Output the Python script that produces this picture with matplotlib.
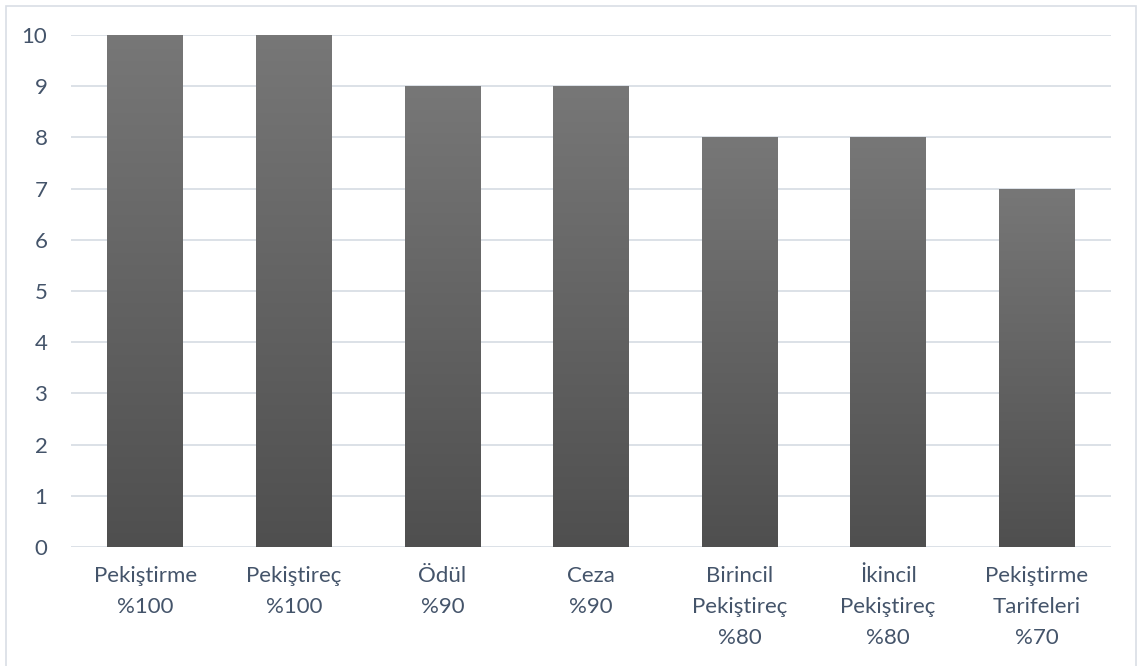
import numpy as np
import matplotlib.pyplot as plt
from matplotlib.patches import Rectangle

categories = ["Pekiştirme\n%100", "Pekiştireç\n%100", "Ödül\n%90", "Ceza\n%90",
              "Birincil\nPekiştireç\n%80", "İkincil\nPekiştireç\n%80",
              "Pekiştirme\nTarifeleri\n%70"]
values = [10, 10, 9, 9, 8, 8, 7]
yticks = list(range(0, 11))

text_color = "#44546A"
grid_color = "#D9DEE5"

fig = plt.figure(figsize=(11.37, 6.66), dpi=100)
ax = fig.add_axes([71 / 1137, 1 - 547 / 666, 1040 / 1137, 512 / 666])

x = np.arange(len(categories))
bars = ax.bar(x, values, width=0.51, color="#5f5f5f", zorder=2)

# vertical gradient inside each bar
grad = np.linspace(0, 1, 256).reshape(-1, 1)
cmap = plt.matplotlib.colors.LinearSegmentedColormap.from_list("g", ["#4f4f4f", "#777777"])
for b in bars:
    x0, y0 = b.get_x(), b.get_y()
    w, h = b.get_width(), b.get_height()
    im = ax.imshow(grad, extent=[x0, x0 + w, y0, y0 + h], origin="lower",
                   cmap=cmap, aspect="auto", zorder=3)
    im.set_clip_path(b)

ax.set_xlim(-0.5, len(categories) - 0.5)
ax.set_ylim(0, 10)
ax.set_yticks(yticks)
ax.set_xticks(x)
ax.set_xticklabels(categories, linespacing=1.68)
ax.yaxis.grid(True, color=grid_color, linewidth=1.3, zorder=0)
ax.set_axisbelow(True)
for s in ax.spines.values():
    s.set_visible(False)
ax.tick_params(length=0, colors=text_color, labelsize=16)
ax.tick_params(axis="x", pad=14)
ax.tick_params(axis="y", pad=17)
for lbl in ax.get_xticklabels() + ax.get_yticklabels():
    lbl.set_fontfamily("Lato")
    lbl.set_color(text_color)

fig.patches.append(Rectangle((6 / 1137, -10 / 666), 1130 / 1137, 670 / 666,
                             transform=fig.transFigure, fill=False,
                             edgecolor=grid_color, linewidth=1.2))

fig.savefig("out.png", dpi=100)
